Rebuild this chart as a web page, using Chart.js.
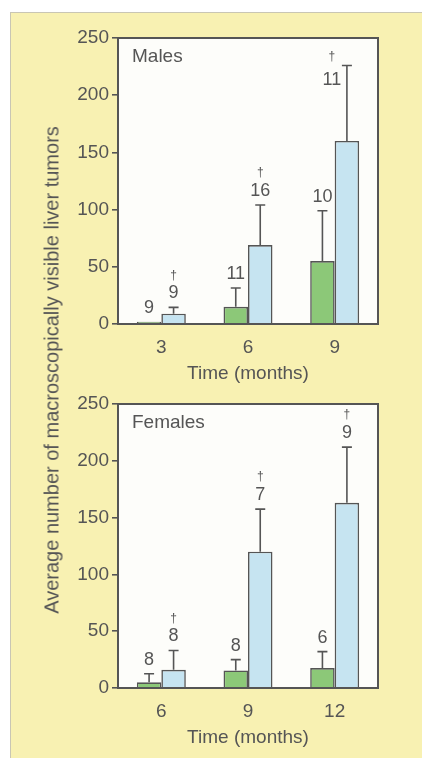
<!DOCTYPE html>
<html>
<head>
<meta charset="utf-8">
<script src="https://cdn.jsdelivr.net/npm/chart.js@4.4.1/dist/chart.umd.min.js"></script>
<style>
  html, body { margin: 0; padding: 0; background: #ffffff; }
  #page { position: relative; width: 422px; height: 758px; overflow: hidden; }
  #paper {
    position: absolute; left: 10px; top: 12px; width: 420px; height: 760px;
    background: #f8f1b2; border-left: 1.5px solid #c9c6b4; border-top: 1.5px solid #c9c6b4;
  }
  canvas { position: absolute; left: 0; }
  #males { top: 0; }
  #females { top: 380px; }
  #ytitle {
    position: absolute; left: 52px; top: 370px; width: 560px; margin-left: -280px;
    text-align: center; transform: translateY(-50%) rotate(-90deg);
    font: 20px 'Liberation Sans', Arial, sans-serif; color: #555; white-space: nowrap;
  }
</style>
</head>
<body>
<div id="page">
  <div id="paper"></div>
  <canvas id="males" width="422" height="390"></canvas>
  <canvas id="females" width="422" height="378"></canvas>
  <div id="ytitle">Average number of macroscopically visible liver tumors</div>
</div>
<script>
// Males
const maleMonths = ['3', '6', '9'];
const maleControl = [2, 15, 55];
const maleControlErr = [2, 31.5, 99];
const maleControlN = ['9', '11', '10'];
const maleTreated = [9, 69, 160];
const maleTreatedErr = [14.5, 104, 226];
const maleTreatedN = ['9', '16', '11'];

// Females
const femaleMonths = ['6', '9', '12'];
const femaleControl = [5, 15.5, 17.5];
const femaleControlErr = [12.5, 25, 32];
const femaleControlN = ['8', '8', '6'];
const femaleTreated = [16, 120, 163];
const femaleTreatedErr = [33, 157.5, 212];
const femaleTreatedN = ['8', '7', '9'];

const yTicks = [0, 50, 100, 150, 200, 250];

const INK = '#555555';
const GREEN = '#8cc878';
const BLUE = '#c6e4f1';
Chart.defaults.font.family = "'Liberation Sans', Arial, sans-serif";
Chart.defaults.color = INK;

// white plot area, frame, error whiskers, n labels and daggers
const panelPlugin = {
    id: 'panel',
    beforeDraw(chart) {
        const { ctx, chartArea: a } = chart;
        ctx.save();
        ctx.fillStyle = '#fdfdfa';
        ctx.fillRect(a.left, a.top, a.right - a.left, a.bottom - a.top);
        ctx.restore();
    },
    afterDatasetsDraw(chart, args, opts) {
        const { ctx, chartArea: a, scales: { y } } = chart;
        ctx.save();
        ctx.strokeStyle = INK;
        ctx.lineWidth = 1.6;
        ctx.fillStyle = INK;
        ctx.textAlign = 'center';
        ctx.textBaseline = 'middle';

        chart.data.datasets.forEach((ds, i) => {
            chart.getDatasetMeta(i).data.forEach((bar, j) => {
                const topPx = Math.min(bar.y, y.getPixelForValue(ds.errTop[j]));
                if (topPx < bar.y - 1) {
                    ctx.beginPath();
                    ctx.moveTo(bar.x, bar.y);
                    ctx.lineTo(bar.x, topPx);
                    ctx.moveTo(bar.x - 5, topPx);
                    ctx.lineTo(bar.x + 5, topPx);
                    ctx.stroke();
                }
                let lx = bar.x, ly = topPx - 14, dy = ly - 18;
                if (ds.dagger && dy < a.top + 10) {
                    lx = bar.x - 15; ly = topPx + 15; dy = topPx - 9;
                }
                ctx.font = "18px 'Liberation Sans', Arial, sans-serif";
                ctx.fillText(ds.counts[j], lx, ly);
                if (ds.dagger) {
                    ctx.font = "12px 'Liberation Sans', Arial, sans-serif";
                    ctx.fillText('\u2020', lx, dy);
                }
            });
        });

        ctx.lineWidth = 2;
        ctx.strokeRect(a.left, a.top, a.right - a.left, a.bottom - a.top);

        ctx.font = "19px 'Liberation Sans', Arial, sans-serif";
        ctx.textAlign = 'left';
        ctx.fillText(opts.title, a.left + 14, a.top + 19);
        ctx.restore();
    }
};

function makePanel(id, title, months, control, controlErr, controlN, treated, treatedErr, treatedN, layout) {
    const ctx = document.getElementById(id).getContext('2d');
    return new Chart(ctx, {
        type: 'bar',
        data: {
            labels: months,
            datasets: [{
                data: control,
                errTop: controlErr,
                counts: controlN,
                dagger: false,
                backgroundColor: GREEN,
                borderColor: INK,
                borderWidth: 1.6,
                categoryPercentage: 0.565,
                barPercentage: 1.0
            }, {
                data: treated,
                errTop: treatedErr,
                counts: treatedN,
                dagger: true,
                backgroundColor: BLUE,
                borderColor: INK,
                borderWidth: 1.6,
                categoryPercentage: 0.565,
                barPercentage: 1.0
            }]
        },
        options: {
            responsive: false,
            animation: false,
            devicePixelRatio: 1,
            layout: { padding: { left: 0, top: layout.top, right: 44, bottom: 0 } },
            plugins: {
                legend: { display: false },
                tooltip: { enabled: false },
                panel: { title: title }
            },
            scales: {
                x: {
                    grid: { display: false, drawTicks: false },
                    border: { display: false },
                    ticks: { padding: 12, color: INK, font: { size: 19 } },
                    title: {
                        display: true,
                        text: 'Time (months)',
                        color: INK,
                        font: { size: 19 },
                        padding: { top: 0, bottom: layout.titlePad }
                    },
                    afterFit: s => { s.height = layout.xHeight; }
                },
                y: {
                    min: 0,
                    max: 250,
                    afterBuildTicks: s => { s.ticks = yTicks.map(v => ({ value: v })); },
                    grid: { drawOnChartArea: false, drawTicks: true, tickLength: 6, color: INK, lineWidth: 1.6 },
                    border: { display: false },
                    ticks: { padding: 3, color: INK, font: { size: 19 } },
                    afterFit: s => { s.width = 118; }
                }
            }
        },
        plugins: [panelPlugin]
    });
}

makePanel('males', 'Males', maleMonths, maleControl, maleControlErr, maleControlN,
    maleTreated, maleTreatedErr, maleTreatedN, { top: 38, xHeight: 66, titlePad: 4.5 });
makePanel('females', 'Females', femaleMonths, femaleControl, femaleControlErr, femaleControlN,
    femaleTreated, femaleTreatedErr, femaleTreatedN, { top: 24, xHeight: 70, titlePad: 8.5 });
</script>
</body>
</html>
